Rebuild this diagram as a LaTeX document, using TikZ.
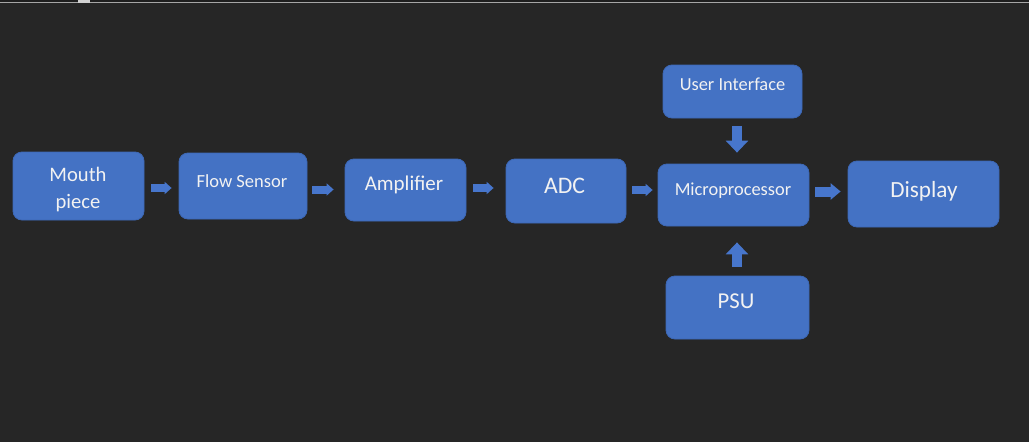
\documentclass[tikz,border=0pt]{standalone}
\usepackage{fontspec}
\setmainfont{Carlito}
\usetikzlibrary{arrows.meta}
\definecolor{bg}{HTML}{262626}
\definecolor{boxblue}{HTML}{4472C4}
\definecolor{boxedge}{HTML}{3D68B6}
\definecolor{arrblue}{HTML}{4776CC}
\definecolor{txt}{HTML}{F2F2F2}
\begin{document}
\begin{tikzpicture}[x=1pt,y=-1pt,
  blk/.style={draw=boxedge, line width=0.8pt, fill=boxblue, rounded corners=9pt, inner sep=0pt, minimum width=#1},
  lbl/.style={text=txt, anchor=base, inner sep=0pt, font=\fontsize{#1}{#1}\selectfont},
  harrow/.style={draw=arrblue, line width=8pt, -{Triangle[length=7pt,width=12pt]}},
  bigarrow/.style={draw=arrblue, line width=10pt, -{Triangle[length=10pt,width=16pt]}},
  varrow/.style={draw=arrblue, line width=10pt, -{Triangle[length=12pt,width=22pt]}}
]
\fill[bg] (0,0) rectangle (1029,442);
\useasboundingbox (0,0) rectangle (1029,442);
\fill[bg!80!black] (0,0) rectangle (1029,2);
\draw[gray!70, line width=1pt] (0,2.5) -- (1029,2.5);
\fill[gray!35] (78,0) rectangle (90,2.5);

% boxes
\node[blk=131pt, minimum height=68pt] (mouth) at (78.5,186) {};
\node[blk=128pt, minimum height=66pt] (flow) at (243,186) {};
\node[blk=121pt, minimum height=62pt] (amp) at (405.5,190) {};
\node[blk=120pt, minimum height=64pt] (adc) at (566,191) {};
\node[blk=139pt, minimum height=53pt] (ui) at (732.5,91.5) {};
\node[blk=151pt, minimum height=62pt] (micro) at (733.5,195) {};
\node[blk=151pt, minimum height=66pt] (disp) at (923.5,194) {};
\node[blk=143pt, minimum height=63pt] (psu) at (737.5,307.5) {};

% labels
\node[lbl=20.6] (tmouth) at (78,181) {Mouth};
\node[lbl=20.6] (tpiece) at (78,208) {piece};
\node[lbl=18.5] (tflow) at (242,187) {Flow Sensor};
\node[lbl=21] (tamp) at (404,190) {Amplifier};
\node[lbl=23.7] (tadc) at (564.5,193) {ADC};
\node[lbl=18.4] (tmicro) at (733,195) {Microprocessor};
\node[lbl=23.2] (tdisp) at (924,197) {Display};
\node[lbl=18.4] (tui) at (732.5,90.7) {User Interface};
\node[lbl=22.7] (tpsu) at (736,308) {PSU};

% connectors
\draw[harrow] ([shift={(7,2)}]mouth.east) -- ([shift={(-7,2)}]flow.west);
\draw[harrow] ([shift={(5,3.5)}]flow.east) -- ([shift={(-11,-0.5)}]amp.west);
\draw[harrow] ([shift={(7,-2)}]amp.east) -- ([shift={(-12,-3)}]adc.west);
\draw[harrow] ([shift={(6,-1)}]adc.east) -- ([shift={(-5,-5)}]micro.west);
\draw[bigarrow] ([shift={(6,-3.5)}]micro.east) -- ([shift={(-7,-2.5)}]disp.west);
\draw[varrow] ([shift={(4.5,8)}]ui.south) -- ([shift={(3.5,-11)}]micro.north);
\draw[varrow] ([shift={(-0.5,-9)}]psu.north) -- ([shift={(3.5,16)}]micro.south);
\end{tikzpicture}
\end{document}
